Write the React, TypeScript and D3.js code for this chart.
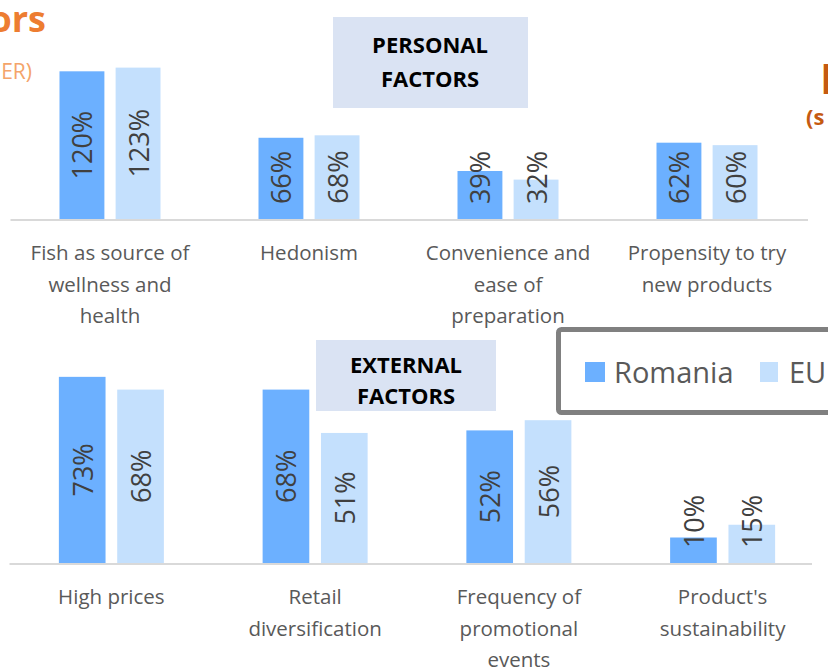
import React from "react";
import * as d3 from "d3";

const series = ["Romania", "EU"];
const seriesColors = ["#6CB0FF", "#C4E0FD"];

const personalCategories = [
  "Fish as source of\nwellness and\nhealth",
  "Hedonism",
  "Convenience and\nease of\npreparation",
  "Propensity to try\nnew products",
];
const personalRomania = [120, 66, 39, 62];
const personalEU = [123, 68, 32, 60];

const externalCategories = [
  "High prices",
  "Retail\ndiversification",
  "Frequency of\npromotional\nevents",
  "Product's\nsustainability",
];
const externalRomania = [73, 68, 52, 10];
const externalEU = [68, 51, 56, 15];

const FONT = "'Open Sans', 'DejaVu Sans', sans-serif";

type PanelProps = {
  categories: string[];
  values: number[][];
  xRange: [number, number];
  groupWidth: number;
  baseline: number;
  yMax: number;
  yTop: number;
  lineEnd: number;
};

function Panel({ categories, values, xRange, groupWidth, baseline, yMax, yTop, lineEnd }: PanelProps) {
  const x0 = d3.scaleBand<string>().domain(categories).range(xRange).paddingInner(0).paddingOuter(0);
  const x1 = d3.scaleBand<string>().domain(series).range([0, groupWidth]).paddingInner(0.2);
  const y = d3.scaleLinear().domain([0, yMax]).range([baseline, yTop]);
  const step = x0.bandwidth();
  return (
    <g>
      {categories.map((c, ci) => {
        const gx = (x0(c) as number) + step / 2 - groupWidth / 2;
        return (
          <g key={c}>
            {series.map((s, si) => {
              const v = values[si][ci];
              const bx = gx + (x1(s) as number);
              const by = y(v);
              const label = `${v}%`;
              const len = 17 * label.length;
              const mid = (by + baseline) / 2;
              const cy = Math.min(mid, baseline - 16 - len / 2);
              const cx = bx + x1.bandwidth() / 2;
              return (
                <g key={s}>
                  <rect x={bx} y={by} width={x1.bandwidth()} height={baseline - by} fill={seriesColors[si]} />
                  <text
                    transform={`translate(${cx},${cy}) rotate(-90)`}
                    textAnchor="middle"
                    dominantBaseline="central"
                    fontFamily={FONT}
                    fontSize={27}
                    fill="#404040"
                  >
                    {label}
                  </text>
                </g>
              );
            })}
            {c.split("\n").map((line, li) => (
              <text
                key={li}
                x={(x0(c) as number) + step / 2}
                y={baseline + 41 + li * 31.5}
                textAnchor="middle"
                fontFamily={FONT}
                fontSize={20.5}
                fill="#595959"
              >
                {line}
              </text>
            ))}
          </g>
        );
      })}
      <line x1={xRange[0]} x2={lineEnd} y1={baseline + 1} y2={baseline + 1} stroke="#D9D9D9" strokeWidth={2} />
    </g>
  );
}

export default function App() {
  return (
    <svg
      width={828}
      height={669}
      style={{ position: "absolute", left: 0, top: 0, background: "#FFFFFF" }}
    >
      <rect x={0} y={0} width={828} height={669} fill="#FFFFFF" />
      {/* Titles (cropped) */}
      <text x={46} y={32} textAnchor="end" fontFamily={FONT} fontWeight={700} fontSize={36} fill="#ED7D31">
        ors
      </text>
      <text x={32} y={79} textAnchor="end" fontFamily={FONT} fontSize={21} fill="#F4A46A">
        ER)
      </text>
      <text x={820} y={94} fontFamily={FONT} fontWeight={700} fontSize={42} fill="#C55A11">
        I
      </text>
      <text x={806} y={125} fontFamily={FONT} fontWeight={700} fontSize={22} fill="#C55A11">
        (s
      </text>

      <Panel
        categories={personalCategories}
        values={[personalRomania, personalEU]}
        xRange={[10.5, 806.5]}
        groupWidth={101}
        baseline={219}
        yMax={130}
        yTop={59}
        lineEnd={808}
      />
      <Panel
        categories={externalCategories}
        values={[externalRomania, externalEU]}
        xRange={[9.5, 824.5]}
        groupWidth={105}
        baseline={563}
        yMax={80}
        yTop={359}
        lineEnd={812}
      />

      {/* Section boxes */}
      <rect x={333} y={17} width={195} height={91} fill="#DAE3F3" />
      <text x={430} y={53} textAnchor="middle" fontFamily={FONT} fontWeight={700} fontSize={22} fill="#000">
        PERSONAL
      </text>
      <text x={430} y={87} textAnchor="middle" fontFamily={FONT} fontWeight={700} fontSize={22} fill="#000">
        FACTORS
      </text>
      <rect x={316} y={340} width={180} height={71} fill="#DAE3F3" />
      <text x={406} y={373} textAnchor="middle" fontFamily={FONT} fontWeight={700} fontSize={22} fill="#000">
        EXTERNAL
      </text>
      <text x={406} y={404} textAnchor="middle" fontFamily={FONT} fontWeight={700} fontSize={22} fill="#000">
        FACTORS
      </text>

      {/* Legend */}
      <rect x={558.5} y={329.5} width={300} height={83} rx={3} fill="#FFFFFF" stroke="#808080" strokeWidth={5} />
      {series.map((s, i) => {
        const lx = [585, 760][i];
        return (
          <g key={s}>
            <rect x={lx} y={362} width={i === 0 ? 20 : 18} height={20} fill={seriesColors[i]} />
            <text x={lx + 29} y={383} fontFamily={FONT} fontSize={29} fill="#595959">
              {s}
            </text>
          </g>
        );
      })}
    </svg>
  );
}
